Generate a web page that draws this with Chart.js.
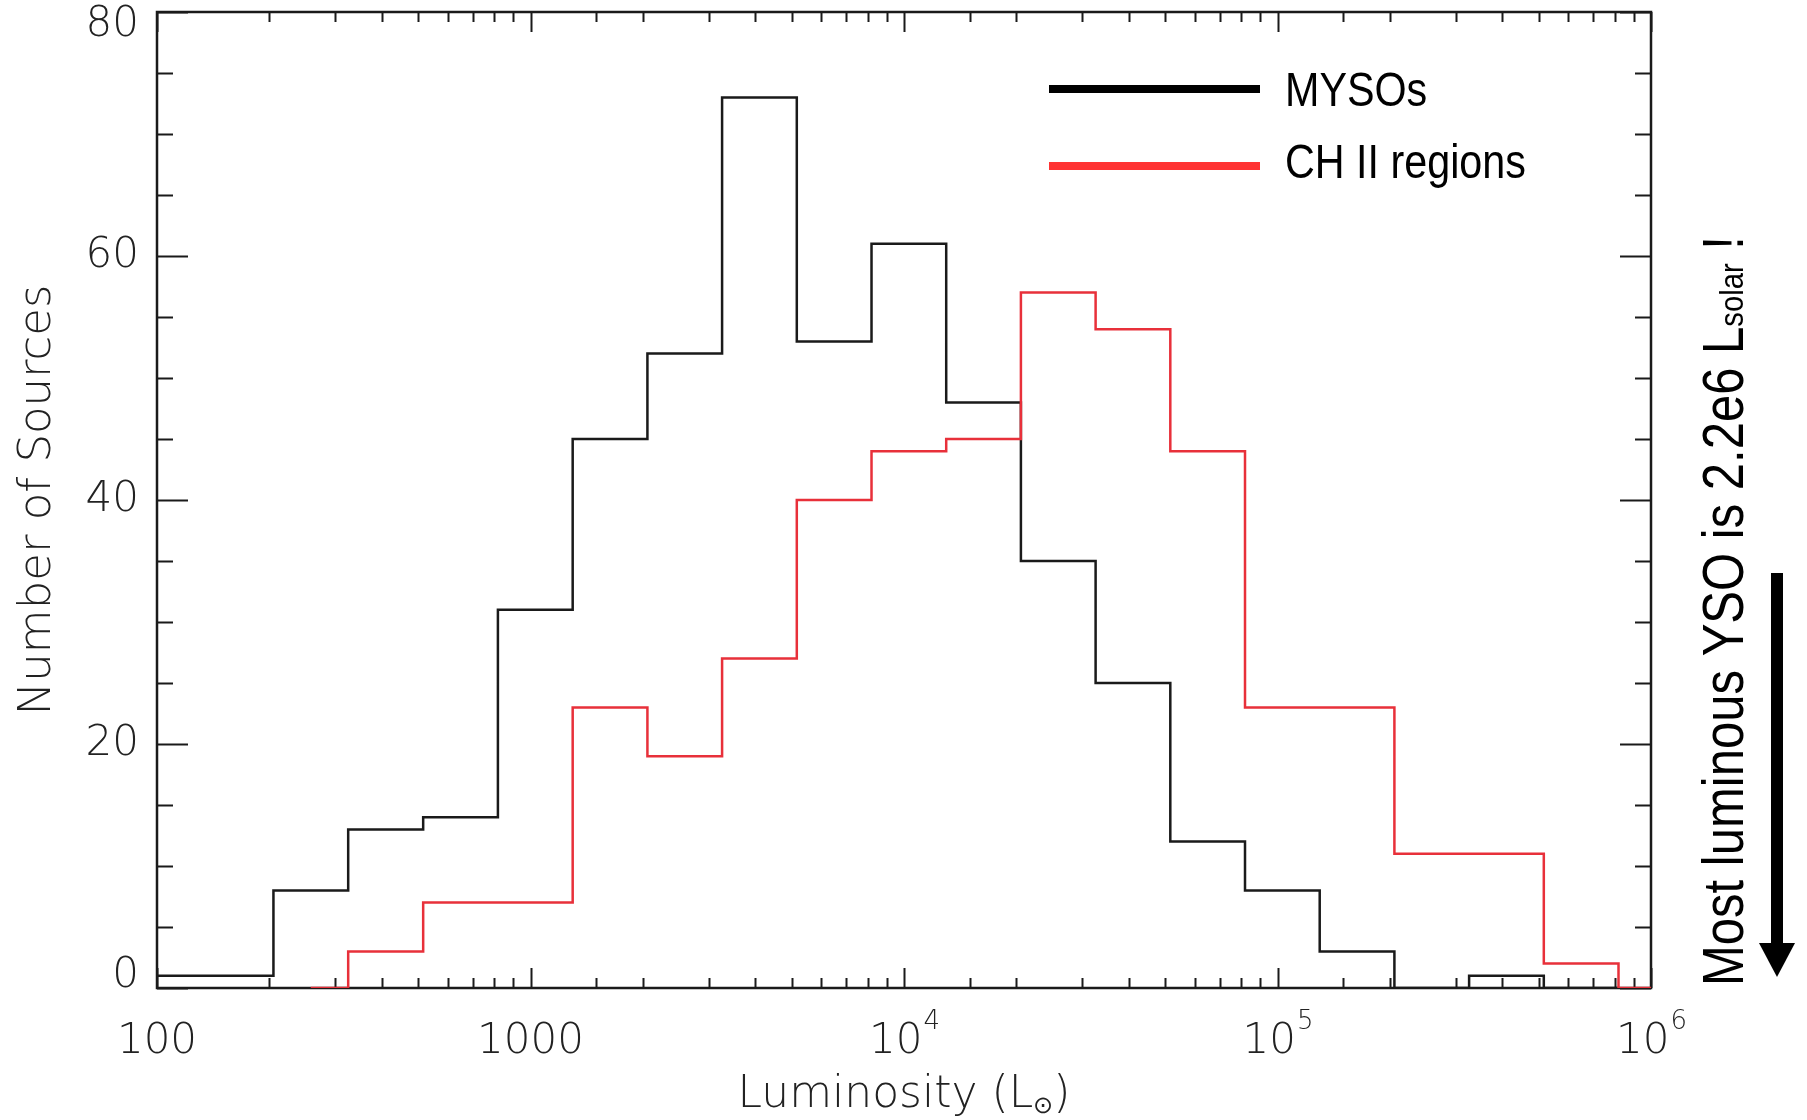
<!DOCTYPE html>
<html>
<head>
<meta charset="utf-8">
<script src="https://cdn.jsdelivr.net/npm/chart.js@4.4.1/dist/chart.umd.min.js"></script>
<style>
  html, body { margin: 0; padding: 0; background: #fff; }
  canvas { display: block; }
</style>
</head>
<body>
<canvas id="lumChart" width="1807" height="1120"></canvas>
<script>
// Histogram bins: lower edge of each bin (L_sun) and the count in it.
// The last entry of each list only closes the step line.
const mysoEdges = [100, 205, 325, 516, 818, 1297, 2056, 3258, 5164, 8185, 12972, 20559, 32584, 51642, 81846, 129718, 205589, 325837, 516416, 818465];
const mysoCounts = [1, 8, 13, 14, 31, 45, 52, 73, 53, 61, 48, 35, 25, 12, 8, 3, 0, 1, 0, 0];

const chiiEdges = [258, 325, 516, 818, 1297, 2056, 3258, 5164, 8185, 12972, 20559, 32584, 51642, 81846, 129718, 205589, 325837, 516416, 818465, 1000000];
const chiiCounts = [0, 3, 7, 7, 23, 19, 27, 40, 44, 45, 57, 54, 44, 23, 23, 11, 11, 2, 0, 0];

// Axis labels: [base, superscript]
const xTickLabels = { 100: ['100', ''], 1000: ['1000', ''], 10000: ['10', '4'], 100000: ['10', '5'], 1000000: ['10', '6'] };
const yTickLabels = [0, 20, 40, 60, 80];

const legendItems = [
    { label: 'MYSOs', color: '#000000' },
    { label: 'CH II regions', color: '#ff3333' }
];

const THIN_FONT = "'DejaVu Sans', 'Noto Sans', sans-serif";
const ARIAL = "'Liberation Sans', Arial, sans-serif";

const toPoints = (edges, counts) => edges.map((e, i) => ({ x: e, y: counts[i] }));

/**
 * Frame, inward tick marks on all four sides (IDL style), tick labels and annotations
 */
const frameTicks = {
    id: 'frameTicks',
    beforeDatasetsDraw(chart) {
        const { ctx, chartArea: a, scales: { x, y } } = chart;
        ctx.save();
        ctx.strokeStyle = '#1a1a1a';
        ctx.lineWidth = 2;
        ctx.beginPath();
        x.ticks.forEach(t => {
            const px = Math.round(x.getPixelForValue(t.value)) + 0.5;
            const len = xTickLabels[t.value] !== undefined ? 20 : 10;
            ctx.moveTo(px, a.bottom); ctx.lineTo(px, a.bottom - len);
            ctx.moveTo(px, a.top); ctx.lineTo(px, a.top + len);
        });
        y.ticks.forEach(t => {
            const py = Math.round(y.getPixelForValue(t.value)) + 0.5;
            const len = yTickLabels.includes(t.value) ? 31 : 16;
            ctx.moveTo(a.left, py); ctx.lineTo(a.left + len, py);
            ctx.moveTo(a.right, py); ctx.lineTo(a.right - len, py);
        });
        ctx.stroke();
        ctx.lineWidth = 2.5;
        ctx.strokeRect(a.left, a.top, a.right - a.left, a.bottom - a.top);
        ctx.restore();
    },
    afterDraw(chart) {
        const { ctx, chartArea: a, scales: { x, y } } = chart;
        ctx.save();
        ctx.fillStyle = '#222';
        ctx.textBaseline = 'middle';

        // y tick labels, kept inside the frame at the ends like IDL does
        ctx.font = `200 42px ${THIN_FONT}`;
        ctx.textAlign = 'right';
        yTickLabels.forEach(v => {
            let py = y.getPixelForValue(v);
            if (v === y.min) py -= 12;
            if (v === y.max) py += 13;
            ctx.fillText(String(v), a.left - 18, py);
        });

        // x tick labels with superscript exponents
        ctx.textAlign = 'left';
        Object.keys(xTickLabels).forEach(k => {
            const [base, sup] = xTickLabels[k];
            const px = x.getPixelForValue(Number(k));
            ctx.font = `200 42px ${THIN_FONT}`;
            const wb = ctx.measureText(base).width;
            ctx.font = `200 26px ${THIN_FONT}`;
            const ws = sup ? ctx.measureText(sup).width : 0;
            const left = px - (wb + ws) / 2;
            ctx.font = `200 42px ${THIN_FONT}`;
            ctx.fillText(base, left, 1042);
            if (sup) {
                ctx.font = `200 26px ${THIN_FONT}`;
                ctx.fillText(sup, left + wb + 1, 1022);
            }
        });

        // y title
        ctx.save();
        ctx.translate(50, (a.top + a.bottom) / 2);
        ctx.rotate(-Math.PI / 2);
        ctx.font = `200 45px ${THIN_FONT}`;
        ctx.textAlign = 'center';
        ctx.textBaseline = 'alphabetic';
        ctx.fillText('Number of Sources', 0, 0);
        ctx.restore();

        // x title with subscript sun symbol
        ctx.textBaseline = 'alphabetic';
        ctx.font = `200 44px ${THIN_FONT}`;
        const main = 'Luminosity (L';
        const wMain = ctx.measureText(main).width;
        ctx.font = `200 24px ${THIN_FONT}`;
        const wSun = ctx.measureText('\u2299').width;
        ctx.font = `200 44px ${THIN_FONT}`;
        const wPar = ctx.measureText(')').width;
        let tx = (a.left + a.right) / 2 - (wMain + wSun + wPar) / 2;
        const base = 1107;
        ctx.fillText(main, tx, base);
        tx += wMain;
        ctx.font = `200 24px ${THIN_FONT}`;
        ctx.fillText('\u2299', tx, base + 6);
        tx += wSun;
        ctx.font = `200 44px ${THIN_FONT}`;
        ctx.fillText(')', tx, base);

        // legend
        const legY = [89, 166];
        legendItems.forEach((item, i) => {
            ctx.fillStyle = item.color;
            ctx.fillRect(1049, legY[i] - 4, 211, 8);
            ctx.save();
            ctx.translate(1285, legY[i] + 17 - (i === 1 ? 5 : 0));
            ctx.scale(0.86, 1);
            ctx.fillStyle = '#000';
            ctx.font = `48px ${ARIAL}`;
            ctx.fillText(item.label, 0, 0);
            ctx.restore();
        });

        // rotated note on the right
        ctx.save();
        ctx.translate(1743, 986);
        ctx.rotate(-Math.PI / 2);
        ctx.scale(0.86, 1);
        ctx.fillStyle = '#000';
        ctx.font = `57px ${ARIAL}`;
        const note = 'Most luminous YSO is 2.2e6 L';
        ctx.fillText(note, 0, 0);
        let nx = ctx.measureText(note).width;
        ctx.font = `34px ${ARIAL}`;
        ctx.fillText('solar', nx, 0);
        nx += ctx.measureText('solar').width;
        ctx.font = `57px ${ARIAL}`;
        ctx.fillText(' !', nx, 0);
        ctx.restore();

        // arrow
        ctx.fillStyle = '#000';
        ctx.fillRect(1771, 573, 12, 372);
        ctx.beginPath();
        ctx.moveTo(1759, 943);
        ctx.lineTo(1795, 943);
        ctx.lineTo(1777, 977);
        ctx.closePath();
        ctx.fill();
        ctx.restore();
    }
};

new Chart(document.getElementById('lumChart').getContext('2d'), {
    type: 'line',
    data: {
        datasets: [
            {
                label: 'CH II regions',
                data: toPoints(chiiEdges, chiiCounts),
                borderColor: '#e8303a',
                borderWidth: 2.5,
                stepped: 'before',
                pointRadius: 0,
                fill: false,
                order: 0
            },
            {
                label: 'MYSOs',
                data: toPoints(mysoEdges, mysoCounts),
                borderColor: '#1a1a1a',
                borderWidth: 2.5,
                stepped: 'before',
                pointRadius: 0,
                fill: false,
                order: 1
            }
        ]
    },
    options: {
        responsive: false,
        devicePixelRatio: 1,
        animation: false,
        layout: { padding: { left: 0, top: 12, right: 156, bottom: 0 } },
        plugins: {
            legend: { display: false },
            tooltip: { enabled: false }
        },
        scales: {
            x: {
                type: 'logarithmic',
                min: 100,
                max: 1000000,
                grid: { display: false, drawTicks: false },
                border: { display: false },
                ticks: { autoSkip: false, maxRotation: 0, callback: () => '' },
                afterFit: (s) => { s.height = 132; s.paddingLeft = 0; s.paddingRight = 0; }
            },
            y: {
                min: 0,
                max: 80,
                grid: { display: false, drawTicks: false },
                border: { display: false },
                ticks: { stepSize: 5, callback: () => '' },
                afterFit: (s) => { s.width = 157; s.paddingTop = 0; s.paddingBottom = 0; }
            }
        }
    },
    plugins: [frameTicks]
});
</script>
</body>
</html>
